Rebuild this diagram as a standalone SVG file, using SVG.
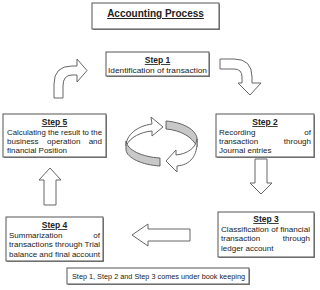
<svg xmlns="http://www.w3.org/2000/svg" width="320" height="290" viewBox="0 0 320 290">
<style>
.box{fill:#fff;stroke:#555;stroke-width:1}
.sh{fill:#888}
.arr{fill:#fff;stroke:#666;stroke-width:1;stroke-linejoin:round}
.band{fill:#c8c8c8;stroke:#555;stroke-width:0.9;stroke-linejoin:round}
.lbl{font-family:"Liberation Sans",Arial,sans-serif;font-size:8.5px;font-weight:bold;fill:#222;text-decoration:underline;text-anchor:middle}
.t{font-family:"Liberation Sans",Arial,sans-serif;font-size:8px;fill:#222}
.title{font-family:"Liberation Sans",Arial,sans-serif;font-size:10px;font-weight:bold;fill:#222;text-decoration:underline;text-anchor:middle}
</style>
<rect width="320" height="290" fill="#fff"/>
<g id="title">
<rect class="sh" x="93" y="4" width="127" height="26"/>
<rect class="box" x="92" y="3" width="127" height="26" stroke-width="1.3"/>
<text class="title" x="155.5" y="17">Accounting Process</text>
</g>
<g id="step1">
<rect class="sh" x="107" y="53" width="103" height="24"/>
<rect class="box" x="106" y="52" width="103" height="24"/>
<text class="lbl" x="157.5" y="63">Step 1</text>
<text class="t" x="108" y="72.5" textLength="99" lengthAdjust="spacingAndGlyphs">Identification of transaction</text>
</g>
<g id="step2">
<rect class="sh" x="217" y="115" width="98" height="43"/>
<rect class="box" x="216" y="114" width="98" height="43"/>
<text class="lbl" x="265" y="125">Step 2</text>
<text class="t" x="219" y="134.5">Recording</text>
<text class="t" x="311" y="134.5" text-anchor="end">of</text>
<text class="t" x="219" y="144">transaction</text>
<text class="t" x="311" y="144" text-anchor="end">through</text>
<text class="t" x="219" y="153">Journal entries</text>
</g>
<g id="step3">
<rect class="sh" x="219" y="213" width="96" height="45"/>
<rect class="box" x="218" y="212" width="96" height="45"/>
<text class="lbl" x="266" y="222">Step 3</text>
<text class="t" x="221" y="231.5" textLength="89" lengthAdjust="spacingAndGlyphs">Classification of financial</text>
<text class="t" x="221" y="241">transaction</text>
<text class="t" x="310" y="241" text-anchor="end">through</text>
<text class="t" x="221" y="250.5">ledger account</text>
</g>
<g id="step4">
<rect class="sh" x="7" y="218" width="97" height="44"/>
<rect class="box" x="6" y="217" width="97" height="44"/>
<text class="lbl" x="54.5" y="228">Step 4</text>
<text class="t" x="9" y="237.5">Summarization</text>
<text class="t" x="100" y="237.5" text-anchor="end">of</text>
<text class="t" x="9" y="247" textLength="91" lengthAdjust="spacingAndGlyphs">transactions through Trial</text>
<text class="t" x="9" y="256.5" textLength="91" lengthAdjust="spacingAndGlyphs">balance and final account</text>
</g>
<g id="step5">
<rect class="sh" x="4" y="115" width="103" height="43"/>
<rect class="box" x="3" y="114" width="103" height="43"/>
<text class="lbl" x="54.5" y="125">Step 5</text>
<text class="t" x="7" y="134.5" textLength="95" lengthAdjust="spacingAndGlyphs">Calculating the result to the</text>
<text class="t" x="7" y="144">business</text>
<text class="t" x="47" y="144">operation</text>
<text class="t" x="102" y="144" text-anchor="end">and</text>
<text class="t" x="7" y="153">financial Position</text>
</g>
<g id="note">
<rect class="sh" x="68" y="269" width="182" height="16"/>
<rect class="box" x="67" y="268" width="182" height="16"/>
<text class="t" x="72" y="279" font-size="7.5" textLength="173" lengthAdjust="spacingAndGlyphs">Step 1, Step 2 and Step 3 comes under book keeping</text>
</g>
<g id="connectors">
<path class="arr" d="M54,98 L54,84 Q54,66 72,66 L77,66 L77,59 L87,70.5 L77,82 L77,75 L72,75 Q63,75 63,86 L63,98 Z"/>
<path class="arr" d="M220,59 L234,59 Q252,59 252,77 L252,83 L261,83 L250,95 L238,83 L242,83 L242,77 Q242,69 234,69 L220,69 Z"/>
<path class="arr" d="M255,159 L267,159 L267,183 L272,183 L261,194 L250,183 L255,183 Z"/>
<path class="arr" d="M44,205 L44,180 L39,180 L50,168 L61,180 L56,180 L56,205 Z"/>
<path class="arr" d="M190,229 L148,229 L148,224 L132,235 L148,246 L148,241 L190,241 Z"/>
<g id="cycle">
<path class="band" d="M166,121 C180,122 195,128 197,138 L197,147 C193,137 180,130 166,129 Z"/>
<path class="arr" d="M126,146 C126,135 137,126 152,124 L151,117 L163,127 L152,136 L152,131 C141,132 130,137 126,146 Z"/>
<path class="band" d="M126,141 C127,150 142,157 160,158 L160,166 C142,165 127,158 126,150 Z"/>
<path class="arr" d="M197,139 C196,148 187,154 176,155 L176,150 L166,161 L177,172 L177,166 C190,165 198,156 197,139 Z"/>
</g>
</g>
</svg>
